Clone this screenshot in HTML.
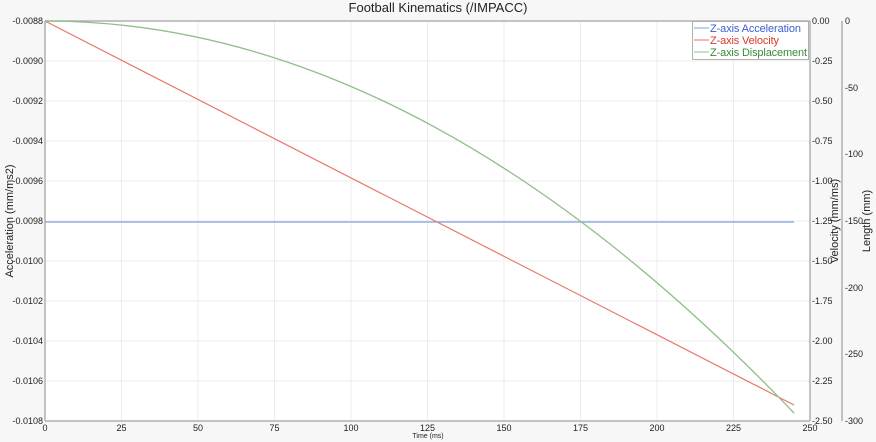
<!DOCTYPE html>
<html><head><meta charset="utf-8"><style>
html,body{margin:0;padding:0;background:#f7f7f7}
svg{display:block;font-family:"Liberation Sans","DejaVu Sans",sans-serif}
</style></head><body>
<svg width="876" height="442" viewBox="0 0 876 442" xmlns="http://www.w3.org/2000/svg">
<rect x="0" y="0" width="876" height="442" fill="#f7f7f7"/>
<rect x="45" y="21" width="765" height="400" fill="#ffffff"/>
<g stroke="#ececec" stroke-width="1">
<line x1="121.5" y1="21" x2="121.5" y2="421"/><line x1="198" y1="21" x2="198" y2="421"/><line x1="274.5" y1="21" x2="274.5" y2="421"/><line x1="351" y1="21" x2="351" y2="421"/><line x1="427.5" y1="21" x2="427.5" y2="421"/><line x1="504" y1="21" x2="504" y2="421"/><line x1="580.5" y1="21" x2="580.5" y2="421"/><line x1="657" y1="21" x2="657" y2="421"/><line x1="733.5" y1="21" x2="733.5" y2="421"/>
<line x1="45" y1="61" x2="810" y2="61"/><line x1="45" y1="101" x2="810" y2="101"/><line x1="45" y1="141" x2="810" y2="141"/><line x1="45" y1="181" x2="810" y2="181"/><line x1="45" y1="221" x2="810" y2="221"/><line x1="45" y1="261" x2="810" y2="261"/><line x1="45" y1="301" x2="810" y2="301"/><line x1="45" y1="341" x2="810" y2="341"/><line x1="45" y1="381" x2="810" y2="381"/>
</g>
<g stroke="#b0b0b0" stroke-width="1.5" fill="none">
<line x1="45" y1="21" x2="810" y2="21"/><line x1="45" y1="421" x2="810" y2="421"/>
<line x1="45" y1="21" x2="45" y2="421"/><line x1="810" y1="21" x2="810" y2="421"/>
<line x1="842" y1="21" x2="842" y2="421"/>
</g>
<line x1="45" y1="222" x2="794" y2="222" stroke="#7f9fe0" stroke-width="1.2"/>
<line x1="45" y1="21" x2="794" y2="405" stroke="#e8776a" stroke-width="1.2"/>
<path d="M45,21 Q419.6,21 794.2,413.2" stroke="#8fbf88" stroke-width="1.3" fill="none"/>
<text x="438" y="12" font-size="13" text-anchor="middle" fill="#222">Football Kinematics (/IMPACC)</text>
<g font-size="9" fill="#222" text-anchor="end">
<text x="43" y="24">-0.0088</text><text x="43" y="64">-0.0090</text><text x="43" y="104">-0.0092</text><text x="43" y="144">-0.0094</text><text x="43" y="184">-0.0096</text><text x="43" y="224">-0.0098</text><text x="43" y="264">-0.0100</text><text x="43" y="304">-0.0102</text><text x="43" y="344">-0.0104</text><text x="43" y="384">-0.0106</text><text x="43" y="424">-0.0108</text>
</g>
<g font-size="9" fill="#222" text-anchor="middle">
<text x="45" y="431">0</text><text x="121.5" y="431">25</text><text x="198" y="431">50</text><text x="274.5" y="431">75</text><text x="351" y="431">100</text><text x="427.5" y="431">125</text><text x="504" y="431">150</text><text x="580.5" y="431">175</text><text x="657" y="431">200</text><text x="733.5" y="431">225</text><text x="810" y="431">250</text>
</g>
<text x="428" y="438" font-size="7" text-anchor="middle" fill="#222">Time (ms)</text>
<g font-size="9" fill="#222">
<text x="812" y="24">0.00</text><text x="812" y="64">-0.25</text><text x="812" y="104">-0.50</text><text x="812" y="144">-0.75</text><text x="812" y="184">-1.00</text><text x="812" y="224">-1.25</text><text x="812" y="264">-1.50</text><text x="812" y="304">-1.75</text><text x="812" y="344">-2.00</text><text x="812" y="384">-2.25</text><text x="812" y="424">-2.50</text>
<text x="845" y="24">0</text><text x="845" y="91">-50</text><text x="845" y="157">-100</text><text x="845" y="224">-150</text><text x="845" y="291">-200</text><text x="845" y="357">-250</text><text x="845" y="424">-300</text>
</g>
<text transform="translate(13,221) rotate(-90)" font-size="11" text-anchor="middle" fill="#222">Acceleration (mm/ms2)</text>
<text transform="translate(838,221) rotate(-90)" font-size="11" text-anchor="middle" fill="#222">Velocity (mm/ms)</text>
<text transform="translate(870,221) rotate(-90)" font-size="11" text-anchor="middle" fill="#222">Length (mm)</text>
<rect x="692.5" y="21.5" width="116" height="38" fill="#fff" stroke="#b0b0b0"/>
<g font-size="11">
<line x1="694" y1="28" x2="709" y2="28" stroke="#7f9fe0"/><text x="710" y="32" fill="#3b5fd0" textLength="91">Z-axis Acceleration</text>
<line x1="694" y1="40" x2="709" y2="40" stroke="#e8776a"/><text x="710" y="44" fill="#d83a2a" textLength="69">Z-axis Velocity</text>
<line x1="694" y1="52" x2="709" y2="52" stroke="#8fbf88"/><text x="710" y="56" fill="#3a8a3a" textLength="97">Z-axis Displacement</text>
</g>
</svg>
</body></html>
